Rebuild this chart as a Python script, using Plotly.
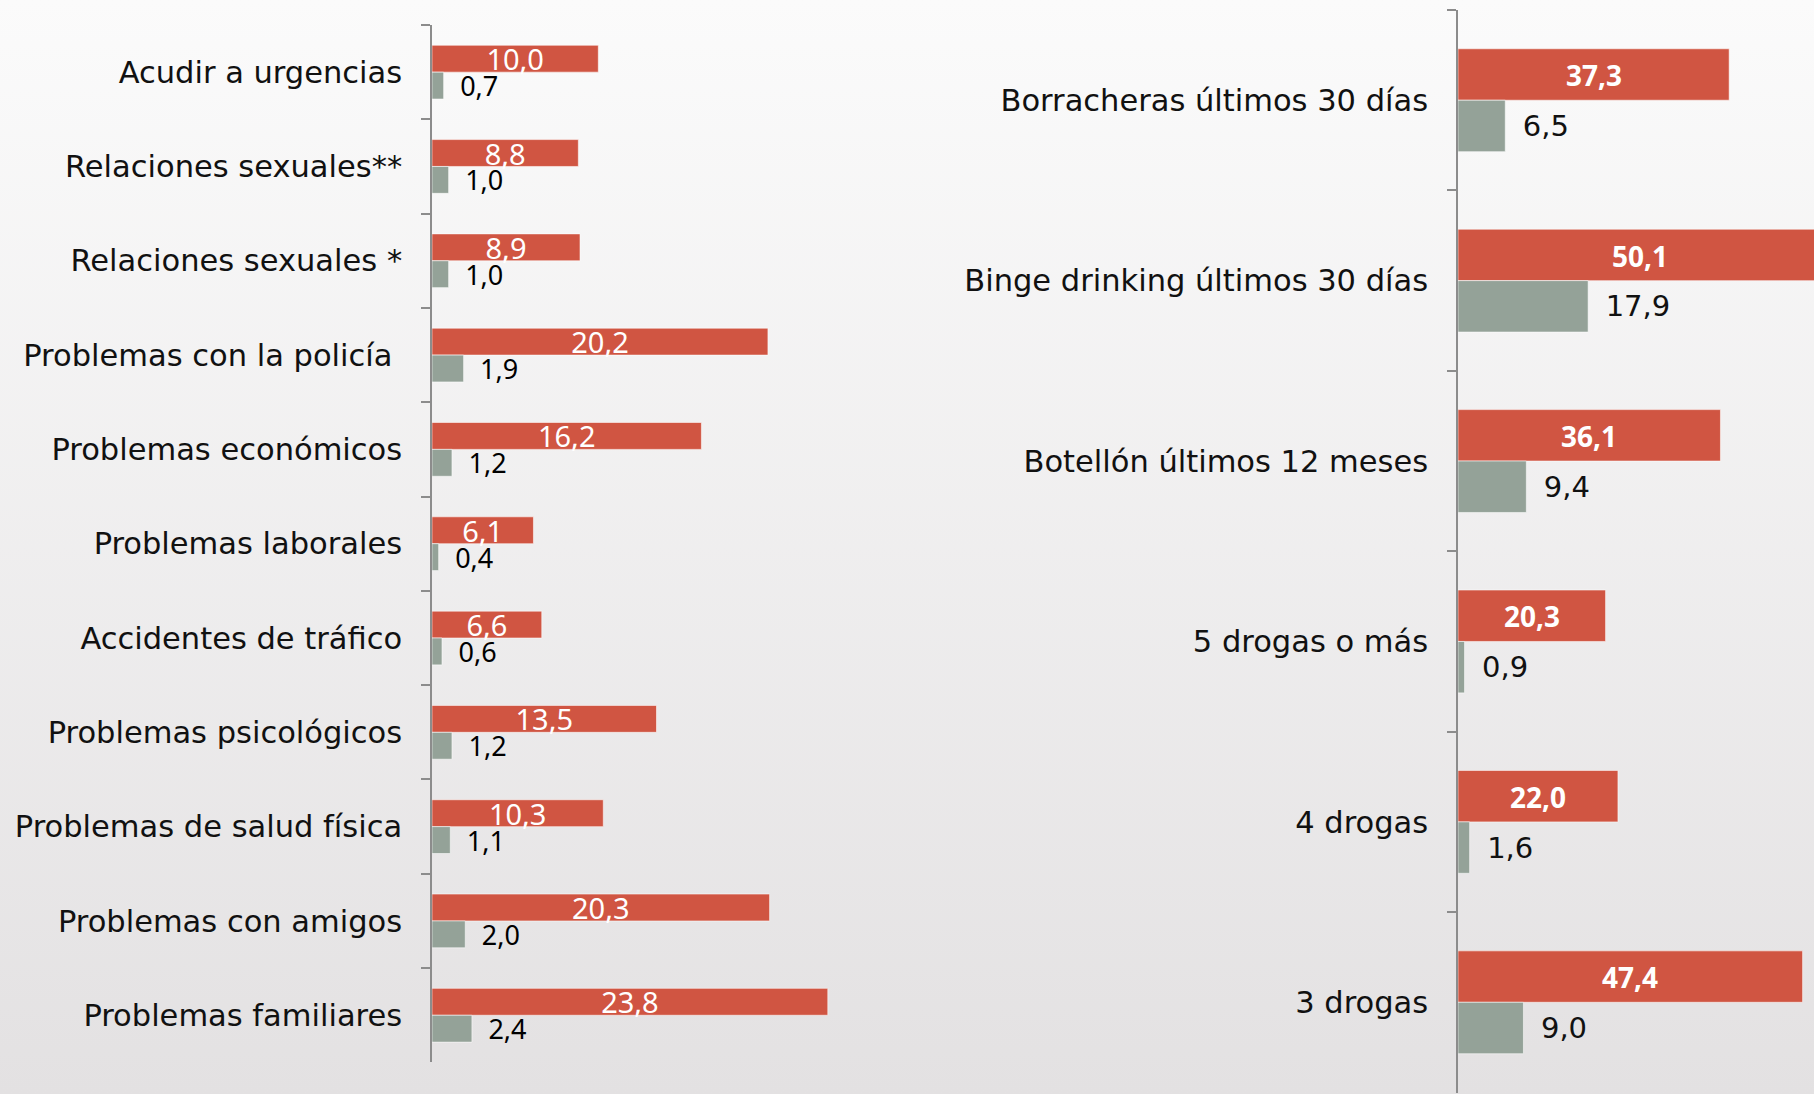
import base64
import plotly.graph_objects as go

# left panel: consequences
left_cats = [
    "Acudir a urgencias",
    "Relaciones sexuales**",
    "Relaciones sexuales *",
    "Problemas con la policía\u00a0",
    "Problemas económicos",
    "Problemas laborales",
    "Accidentes de tráfico",
    "Problemas psicológicos",
    "Problemas de salud física",
    "Problemas con amigos",
    "Problemas familiares",
]
left_red = [10.0, 8.8, 8.9, 20.2, 16.2, 6.1, 6.6, 13.5, 10.3, 20.3, 23.8]
left_grey = [0.7, 1.0, 1.0, 1.9, 1.2, 0.4, 0.6, 1.2, 1.1, 2.0, 2.4]

# right panel: consumption patterns
right_cats = [
    "Borracheras últimos 30 días",
    "Binge drinking últimos 30 días",
    "Botellón últimos 12 meses",
    "5 drogas o más",
    "4 drogas",
    "3 drogas",
]
right_red = [37.3, 50.1, 36.1, 20.3, 22.0, 47.4]
right_grey = [6.5, 17.9, 9.4, 0.9, 1.6, 9.0]

RED = "#d05542"
GREY = "#94a298"
AXIS = "#8c8c8c"
EDGE = dict(color="rgba(255,255,255,0.55)", width=1)
GAP = "\u2002"  # en space between grey bar and its label
LABEL_FONT = "DejaVu Sans"

fig = go.Figure()

fig.add_trace(go.Bar(
    y=left_cats, x=left_red, orientation="h", marker=dict(color=RED, line=EDGE),
    texttemplate="%{x:.1f}", textposition="inside", insidetextanchor="middle",
    constraintext="none", textfont=dict(family="Noto Sans", size=29, color="white"),
    xaxis="x", yaxis="y", hoverinfo="skip",
))
fig.add_trace(go.Bar(
    y=left_cats, x=left_grey, orientation="h", marker=dict(color=GREY, line=EDGE),
    texttemplate=GAP + "%{x:.1f}", textposition="outside",
    constraintext="none", textfont=dict(family="Noto Sans", size=27, color="black"),
    xaxis="x", yaxis="y", hoverinfo="skip", cliponaxis=False,
))
# the 50,1 bar runs past the edge, so the red labels here are annotations
fig.add_trace(go.Bar(
    y=right_cats, x=right_red, orientation="h", marker=dict(color=RED, line=EDGE),
    xaxis="x2", yaxis="y2", hoverinfo="skip",
))
fig.add_trace(go.Bar(
    y=right_cats, x=right_grey, orientation="h", marker=dict(color=GREY, line=EDGE),
    texttemplate=GAP + "%{x:.1f}", textposition="outside",
    constraintext="none", textfont=dict(family=LABEL_FONT, size=29, color="#111111"),
    xaxis="x2", yaxis="y2", hoverinfo="skip", cliponaxis=False,
))

for cat, v in zip(right_cats, right_red):
    fig.add_annotation(
        x=v / 2, y=cat, xref="x2", yref="y2", yshift=25, showarrow=False,
        text="<b>" + f"{v:.1f}".replace(".", ",") + "</b>",
        font=dict(family="Noto Sans", size=28, color="white"),
    )

# soft vertical gradient for the background
svg = (
    '<svg xmlns="http://www.w3.org/2000/svg" width="10" height="100" preserveAspectRatio="none">'
    '<defs><linearGradient id="g" x1="0" y1="0" x2="0" y2="1">'
    '<stop offset="0" stop-color="#fbfbfb"/><stop offset="1" stop-color="#e3e1e2"/>'
    '</linearGradient></defs><rect width="10" height="100" fill="url(#g)"/></svg>'
)
bg_src = "data:image/svg+xml;base64," + base64.b64encode(svg.encode()).decode()

W, H = 1814, 1094
cat_axis = dict(
    type="category", autorange="reversed", tickson="boundaries",
    ticks="outside", ticklen=9, tickwidth=1.5, tickcolor=AXIS,
    showline=True, linecolor=AXIS, linewidth=1.5, showgrid=False,
    tickfont=dict(family=LABEL_FONT, size=30.5, color="#111111"),
    ticklabelstandoff=22, automargin=False,
)

fig.update_layout(
    width=W, height=H,
    margin=dict(l=0, r=0, t=0, b=0),
    paper_bgcolor="#eeeeee", plot_bgcolor="rgba(0,0,0,0)",
    barmode="group", bargap=0.43, bargroupgap=0,
    separators=",.", showlegend=False,
    images=[dict(source=bg_src, xref="paper", yref="paper", x=0, y=1,
                 sizex=1, sizey=1, xanchor="left", yanchor="top",
                 sizing="stretch", layer="below")],
    xaxis=dict(domain=[432 / W, (432 + 30 * 16.63) / W], range=[0, 30],
               visible=False, anchor="y"),
    yaxis=dict(domain=[1 - 1062.4 / H, 1 - 25 / H], anchor="x",
               categoryorder="array", categoryarray=left_cats, **cat_axis),
    xaxis2=dict(domain=[1458 / W, 1], range=[0, (W - 1458) / 7.27],
                visible=False, anchor="y2"),
    yaxis2=dict(domain=[1 - 1092.5 / H, 1 - 10 / H], anchor="x2",
                categoryorder="array", categoryarray=right_cats, **cat_axis),
)

fig.write_html("out.html", config={"displayModeBar": False},
               post_script="document.body.style.margin = '0';")
